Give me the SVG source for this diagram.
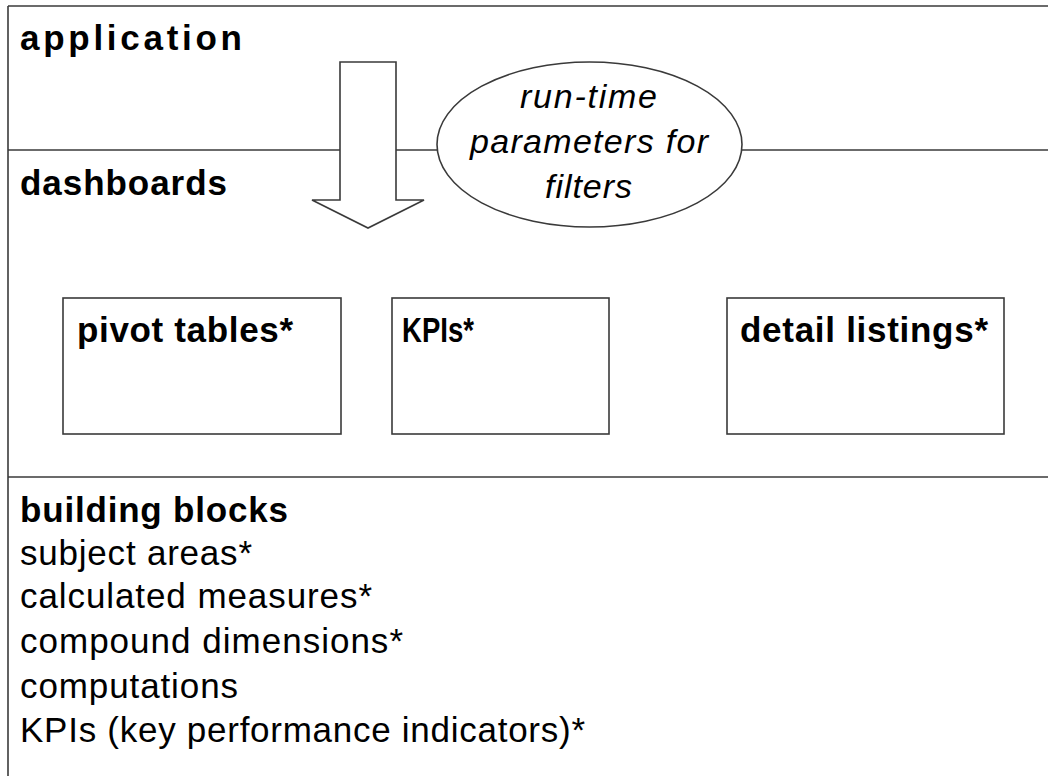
<svg xmlns="http://www.w3.org/2000/svg" width="1048" height="776" viewBox="0 0 1048 776">
<style>
.ln{stroke:#3a3a3a;stroke-width:1.6;fill:none}
.box{stroke:#3a3a3a;stroke-width:1.6;fill:#fff}
.b{font-family:"Liberation Sans",Arial,sans-serif;font-weight:bold;font-size:35px;fill:#000}
.r{font-family:"Liberation Sans",Arial,sans-serif;font-size:35px;fill:#000}
.i{font-family:"Liberation Sans",Arial,sans-serif;font-style:italic;font-size:34px;fill:#000}
</style>
<rect width="1048" height="776" fill="#fff"/>
<g id="frame">
<line class="ln" x1="8" y1="6" x2="1048" y2="6"/>
<line class="ln" x1="8" y1="6" x2="8" y2="776"/>
<line class="ln" x1="8" y1="150" x2="1048" y2="150"/>
<line class="ln" x1="8" y1="477" x2="1048" y2="477"/>
</g>
<g id="application">
<text class="b" x="20" y="50" textLength="222" lengthAdjust="spacing">application</text>
</g>
<g id="dashboards">
<text class="b" x="20" y="195" textLength="207" lengthAdjust="spacing">dashboards</text>
</g>
<g id="connectors">
<polygon class="box" points="340,62 396,62 396,200 424,200 368,228 312,200 340,200"/>
</g>
<g id="runtime-parameters">
<ellipse class="box" cx="589.5" cy="144.5" rx="152.5" ry="82.5"/>
<text class="i" x="588.5" y="108" text-anchor="middle" textLength="137" lengthAdjust="spacing">run-time</text>
<text class="i" x="589" y="153" text-anchor="middle" textLength="238" lengthAdjust="spacing">parameters for</text>
<text class="i" x="588.5" y="198" text-anchor="middle" textLength="87" lengthAdjust="spacing">filters</text>
</g>
<g id="pivot-tables">
<rect class="box" x="63" y="298" width="278" height="136"/>
<text class="b" x="77" y="342" textLength="216" lengthAdjust="spacing">pivot tables*</text>
</g>
<g id="kpis">
<rect class="box" x="392" y="298" width="217" height="136"/>
<text class="b" x="402" y="342" textLength="72" lengthAdjust="spacingAndGlyphs">KPIs*</text>
</g>
<g id="detail-listings">
<rect class="box" x="727" y="298" width="277" height="136"/>
<text class="b" x="740" y="342" textLength="248" lengthAdjust="spacing">detail listings*</text>
</g>
<g id="building-blocks">
<text class="b" x="20" y="522" textLength="268" lengthAdjust="spacing">building blocks</text>
<text class="r" x="20" y="565" textLength="232" lengthAdjust="spacing">subject areas*</text>
<text class="r" x="20" y="608" textLength="352" lengthAdjust="spacing">calculated measures*</text>
<text class="r" x="20" y="653" textLength="383" lengthAdjust="spacing">compound dimensions*</text>
<text class="r" x="20" y="698" textLength="218" lengthAdjust="spacing">computations</text>
<text class="r" x="20" y="742" textLength="565" lengthAdjust="spacing">KPIs (key performance indicators)*</text>
</g>
</svg>
